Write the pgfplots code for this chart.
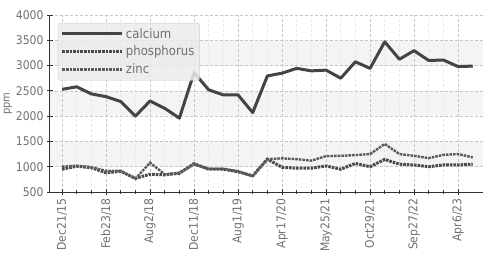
\documentclass[border=0pt]{standalone}
\usepackage{fontspec}
\setmainfont{DejaVu Sans Condensed}
\usepackage{pgfplots}
\pgfplotsset{compat=1.18}
\definecolor{txt}{HTML}{707070}
\definecolor{axc}{HTML}{333333}
\definecolor{band}{HTML}{F4F4F4}
\definecolor{cca}{HTML}{444444}
\definecolor{cph}{HTML}{4A4A4A}
\definecolor{czn}{HTML}{5A5A5A}
\begin{document}
\begin{tikzpicture}
\begin{axis}[
  set layers=standard,
  scale only axis, width=433pt, height=177pt,
  xmin=-0.82, xmax=28.7, ymin=500, ymax=4000,
  axis x line*=bottom, axis y line*=left,
  axis line style={axc, line width=1pt, -},
  xtick={0,3,...,27},
  xticklabels={Dec21/15,Feb23/18,Aug2/18,Dec11/18,Aug1/19,Apr17/20,May25/21,Oct29/21,Sep27/22,Apr6/23},
  minor x tick num=2,
  ytick={500,1000,...,4000},
  /pgf/number format/1000 sep={},
  /pgf/number format/assume math mode=true,
  tick label style={text=txt, font=\fontsize{12}{13}\selectfont},
  x tick label style={rotate=90, anchor=east},
  tick align=center,
  major tick length=6pt, minor tick length=4pt,
  tick style={axc, line width=0.8pt},
  ylabel={ppm},
  ylabel style={text=txt, font=\fontsize{11}{12}\selectfont},
  ylabel shift=-3pt,
  grid=both,
  major grid style={densely dashed, color=black!22, line width=0.6pt},
  minor grid style={densely dashed, color=black!9, line width=0.5pt},
  legend style={at={(0.018,0.955)}, anchor=north west,
    fill=black!8, fill opacity=0.85, text opacity=1, draw=black!20,
    rounded corners=2pt, font=\fontsize{13}{14}\selectfont, text=txt,
    inner xsep=3pt, inner ysep=3pt, row sep=2.5pt},
  legend cell align=left,
  legend image code/.code={\draw[#1, line cap=butt] (0pt,0pt) -- (60pt,0pt);},
]
\addplot[draw=none, fill=band, forget plot, on layer=axis background] coordinates {(-0.82,1000) (28.7,1000) (28.7,1500) (-0.82,1500)};
\addplot[draw=none, fill=band, forget plot, on layer=axis background] coordinates {(-0.82,2000) (28.7,2000) (28.7,2500) (-0.82,2500)};
\addplot[draw=none, fill=band, forget plot, on layer=axis background] coordinates {(-0.82,3000) (28.7,3000) (28.7,3500) (-0.82,3500)};

\addplot[draw=cca, line width=3pt, line join=round] coordinates {
(0,2530) (1,2580) (2,2440) (3,2385) (4,2290) (5,2000) (6,2300) (7,2155) (8,1960) (9,2860)
(10,2520) (11,2420) (12,2420) (13,2070) (14,2795) (15,2850) (16,2945) (17,2895) (18,2910) (19,2750)
(20,3075) (21,2945) (22,3470) (23,3125) (24,3295) (25,3100) (26,3110) (27,2980) (28,2990)};
\addlegendentry{calcium}

\addplot[draw=cph, dash pattern=on 2.6pt off 1pt, line width=3pt] coordinates {
(0,950) (1,1010) (2,980) (3,880) (4,910) (5,770) (6,850) (7,840) (8,870) (9,1060)
(10,950) (11,950) (12,900) (13,820) (14,1150) (15,990) (16,970) (17,970) (18,1015) (19,950)
(20,1065) (21,1000) (22,1145) (23,1050) (24,1035) (25,1000) (26,1035) (27,1035) (28,1050)};
\addlegendentry{phosphorus}

\addplot[draw=czn, dash pattern=on 2.6pt off 1pt, line width=2.4pt] coordinates {
(0,1000) (1,1020) (2,990) (3,920) (4,920) (5,760) (6,1080) (7,850) (8,880) (9,1050)
(10,960) (11,960) (12,910) (13,810) (14,1150) (15,1165) (16,1150) (17,1120) (18,1210) (19,1215)
(20,1230) (21,1250) (22,1450) (23,1250) (24,1215) (25,1170) (26,1235) (27,1250) (28,1185)};
\addlegendentry{zinc}
\end{axis}
\pgfresetboundingbox
\path[use as bounding box] (-50pt,-81pt) rectangle (448pt,192pt);
\end{tikzpicture}
\end{document}
